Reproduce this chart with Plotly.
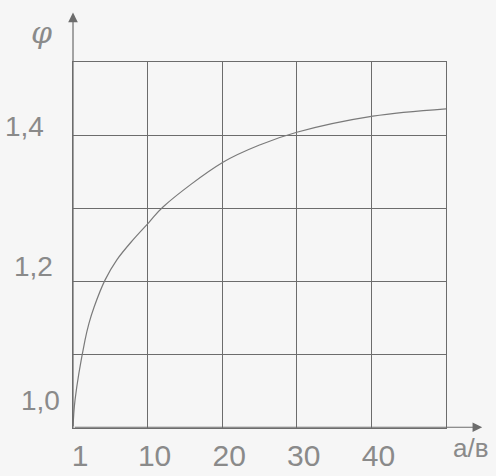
import plotly.graph_objects as go

# φ as a function of a/b (scale origin is marked "1")
a_over_b = [0, 0.27, 1.61, 2.14, 2.82, 4.29, 5.90, 8.04, 10.19, 12.06, 20.1, 25.1,
            30.0, 40.2, 50.0]
phi = [1.000, 1.038, 1.120, 1.143, 1.165, 1.202, 1.230, 1.257, 1.281, 1.302,
       1.363, 1.387, 1.404, 1.426, 1.436]

x_tick_vals = [0, 10, 20, 30, 40]
x_tick_text = ["1", "10", "20", "30", "40"]
y_label_vals = [1.0, 1.2, 1.4]
y_label_text = ["1,0", "1,2", "1,4"]

LINE = "#6c6c6c"
TEXT = "#8a8a8a"
BG = "#f6f6f6"
FONT = "Liberation Sans, Arial, sans-serif"

# hand-placed offsets of the φ labels (pixels)
y_label_dx = [-33, -40, -49]
y_label_dy = [28, 15, 9]

fig = go.Figure()
fig.add_trace(go.Scatter(
    x=a_over_b, y=phi, mode="lines",
    line=dict(color="#7a7a7a", width=1.2, shape="spline", smoothing=1.0),
    hoverinfo="skip", showlegend=False,
))

annotations = []
for v, t, dx, dy in zip(y_label_vals, y_label_text, y_label_dx, y_label_dy):
    annotations.append(dict(
        x=0, xref="paper", y=v, yref="y", text=t, showarrow=False,
        xanchor="center", yanchor="middle", xshift=dx, yshift=dy,
        font=dict(family=FONT, size=28, color=TEXT),
    ))

# axis arrows
annotations.append(dict(
    x=0, xref="paper", y=1.135, yref="paper", ax=0, ay=415, axref="pixel", ayref="pixel",
    text="", showarrow=True, arrowhead=2, arrowsize=1.6, arrowwidth=1.2, arrowcolor=LINE,
))
annotations.append(dict(
    x=1.097, xref="paper", y=0.002, yref="paper", ax=-409, ay=0,
    text="", showarrow=True, arrowhead=2, arrowsize=1.6, arrowwidth=1.2, arrowcolor=LINE,
))

# axis names
annotations.append(dict(
    x=0, xref="paper", y=1.5, yref="y", text="<i>φ</i>", showarrow=False,
    xshift=-44, yshift=30, font=dict(family="DejaVu Serif", size=30, color=TEXT),
))
annotations.append(dict(
    x=1, xref="paper", y=1.0, yref="y", text="а/в", showarrow=False,
    xanchor="left", yanchor="middle", xshift=5, yshift=-20,
    font=dict(family=FONT, size=26, color=TEXT),
))

fig.update_layout(
    width=496, height=476,
    margin=dict(l=73, r=50, t=62, b=48, autoexpand=False),
    paper_bgcolor=BG, plot_bgcolor=BG,
    annotations=annotations,
    xaxis=dict(
        range=[0, 50], tickvals=x_tick_vals, ticktext=x_tick_text,
        showgrid=True, gridcolor=LINE, gridwidth=1,
        showline=True, mirror=True, linecolor=LINE, linewidth=1,
        zeroline=False, ticks="", ticklabelshift=7, ticklabelstandoff=1,
        automargin=False,
        tickfont=dict(family=FONT, size=30, color=TEXT),
    ),
    yaxis=dict(
        range=[1.0, 1.5], dtick=0.1, tick0=1.0,
        showgrid=True, gridcolor=LINE, gridwidth=1,
        showline=True, mirror=True, linecolor=LINE, linewidth=1,
        zeroline=False, ticks="", showticklabels=False, automargin=False,
    ),
)

fig.write_html("out.html")
